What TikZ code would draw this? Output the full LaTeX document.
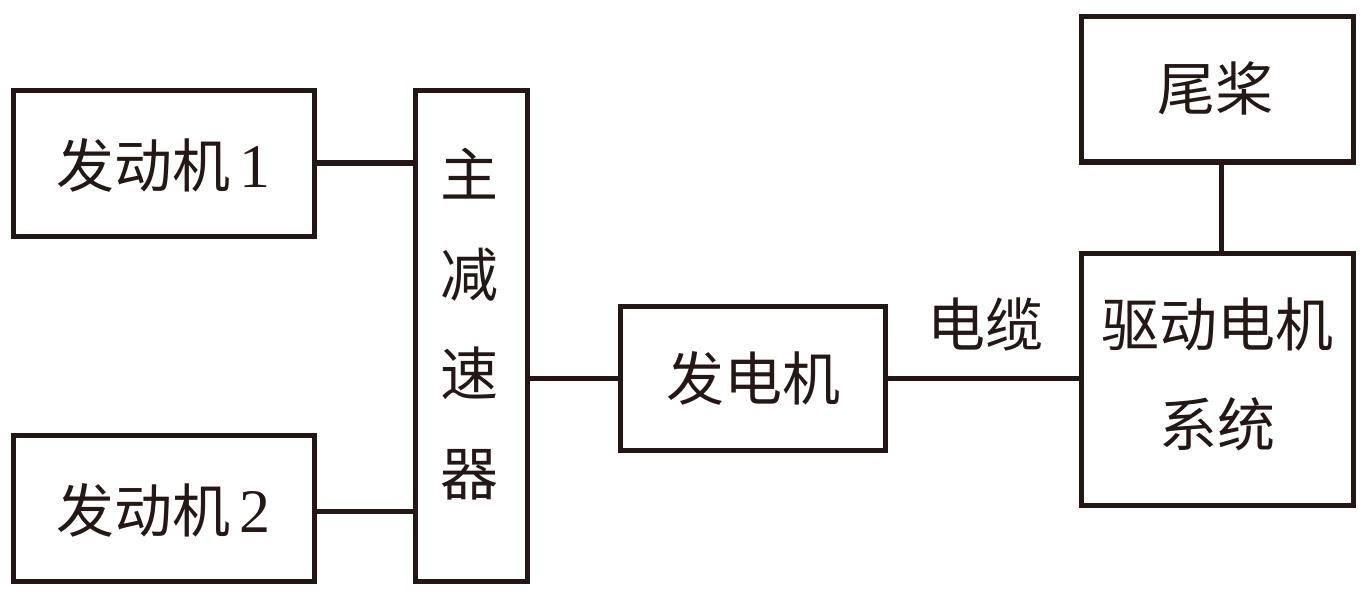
\documentclass[tikz,border=0pt]{standalone}
\usepackage{fontspec}
\setmainfont{Liberation Serif}
\newfontfamily\cjk{Noto Sans CJK SC}
\definecolor{ink}{HTML}{231815}
\begin{document}
\begin{tikzpicture}[x=1pt,y=-1pt,
  box/.style={draw=ink, line width=5pt, inner sep=0pt, outer sep=0pt},
  lbl/.style={inner sep=0pt, font=\fontsize{58}{99.5}\selectfont\cjk, align=center, text=ink},
  wire/.style={draw=ink, line width=5pt}]
\useasboundingbox (0,0) rectangle (1368,599);
% boxes
\node[box, minimum width=301pt, minimum height=145.5pt] (e1) at (163.5,163.25) {};
\node[box, minimum width=301pt, minimum height=145.5pt] (e2) at (163.5,508.25) {};
\node[box, minimum width=112pt, minimum height=490.5pt] (red) at (471.5,335.75) {};
\node[box, minimum width=265pt, minimum height=144pt] (gen) at (753,378.5) {};
\node[box, minimum width=272pt, minimum height=252pt] (drv) at (1217.5,379.5) {};
\node[box, minimum width=272pt, minimum height=145.5pt] (tail) at (1217.5,89.25) {};
% texts
\node[lbl] (t1) at (163.5,165) {发动机\,{\rmfamily\fontsize{62}{62}\selectfont 1}};
\node[lbl] (t2) at (163.5,510) {发动机\,{\rmfamily\fontsize{62}{62}\selectfont 2}};
\node[lbl] (tr) at (469.5,324) {主\\减\\速\\器};
\node[lbl] (tg) at (753,378) {发电机};
\node[lbl] (td) at (1217.5,374.5) {驱动电机\\系统};
\node[lbl] (tt) at (1215,88) {尾桨};
\node[lbl] (tc) at (985.5,324) {电缆};
% connectors
\coordinate (c1) at (e1.east |- 0,163);
\coordinate (c2) at (e2.east |- 0,511.5);
\draw[wire] (c1) -- (c1 -| red.west);
\draw[wire] (c2) -- (c2 -| red.west);
\draw[wire] (red.east |- gen.west) -- (gen.west);
\draw[wire] (gen.east) -- (gen.east -| drv.west);
\coordinate (c3) at (tail.south -| 1221,0);
\draw[wire] (c3) -- (c3 |- drv.north);
\end{tikzpicture}
\end{document}
